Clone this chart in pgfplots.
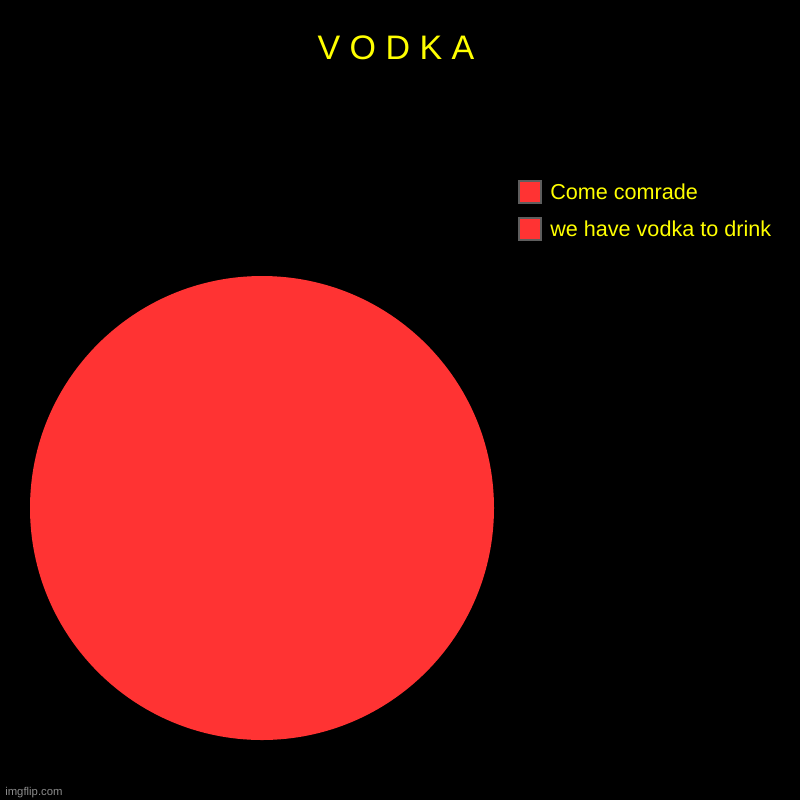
\documentclass[border=0pt]{standalone}
\usepackage{pgfplots}
\pgfplotsset{compat=1.18}
\usepackage{pgfplotstable}
\usepackage{fontspec}
\setmainfont{Liberation Sans}

\definecolor{pie}{HTML}{FF3333}
\definecolor{ttl}{HTML}{FFFF00}
\definecolor{boxedge}{HTML}{5E5E5E}
\definecolor{wmark}{HTML}{8C8C8C}

% slice values (both slices share one colour)
\pgfplotstableread{
label value
come  50
vodka 50
}\slices
\pgfplotstablegetelem{0}{value}\of\slices \let\va\pgfplotsretval
\pgfplotstablegetelem{1}{value}\of\slices \let\vb\pgfplotsretval
\pgfmathsetmacro\fa{\va/(\va+\vb)}
\pgfmathsetmacro\fb{\vb/(\va+\vb)}
\pgfmathsetmacro\angA{90-360*\fa}
\pgfmathsetmacro\angB{\angA-360*\fb}

\begin{document}
\begin{tikzpicture}
\begin{axis}[
    scale only axis,
    width=600pt, height=600pt,
    xmin=0, xmax=800, ymin=0, ymax=800,
    y dir=reverse,
    hide axis,
    clip=false,
]
\fill[black] (axis cs:0,0) rectangle (axis cs:800,800);
% pie, radius 232px = 174pt, clockwise from the top
\fill[pie] (axis cs:262,508) -- ++(90:174pt) arc[start angle=90, end angle=\angA, radius=174pt] -- cycle;
\fill[pie] (axis cs:262,508) -- ++(\angA:174pt) arc[start angle=\angA, end angle=\angB, radius=174pt] -- cycle;

\node[anchor=base, text=ttl, font=\fontsize{25.5}{30}\selectfont] at (axis cs:396,59) {V O D K A};

% legend
\filldraw[fill=pie, draw=boxedge, line width=1.5pt] (axis cs:519,181) rectangle (axis cs:541,203);
\filldraw[fill=pie, draw=boxedge, line width=1.5pt] (axis cs:519,218) rectangle (axis cs:541,240);
\node[anchor=base west, inner sep=0pt, text=ttl, font=\fontsize{16.2}{19}\selectfont] at (axis cs:550,199) {Come comrade};
\node[anchor=base west, inner sep=0pt, text=ttl, font=\fontsize{16.2}{19}\selectfont] at (axis cs:550,236) {we have vodka to drink};

\node[anchor=base west, inner sep=0pt, text=wmark, font=\fontsize{8.5}{10}\selectfont] at (axis cs:5,795) {imgflip.com};
\end{axis}
\end{tikzpicture}
\end{document}
